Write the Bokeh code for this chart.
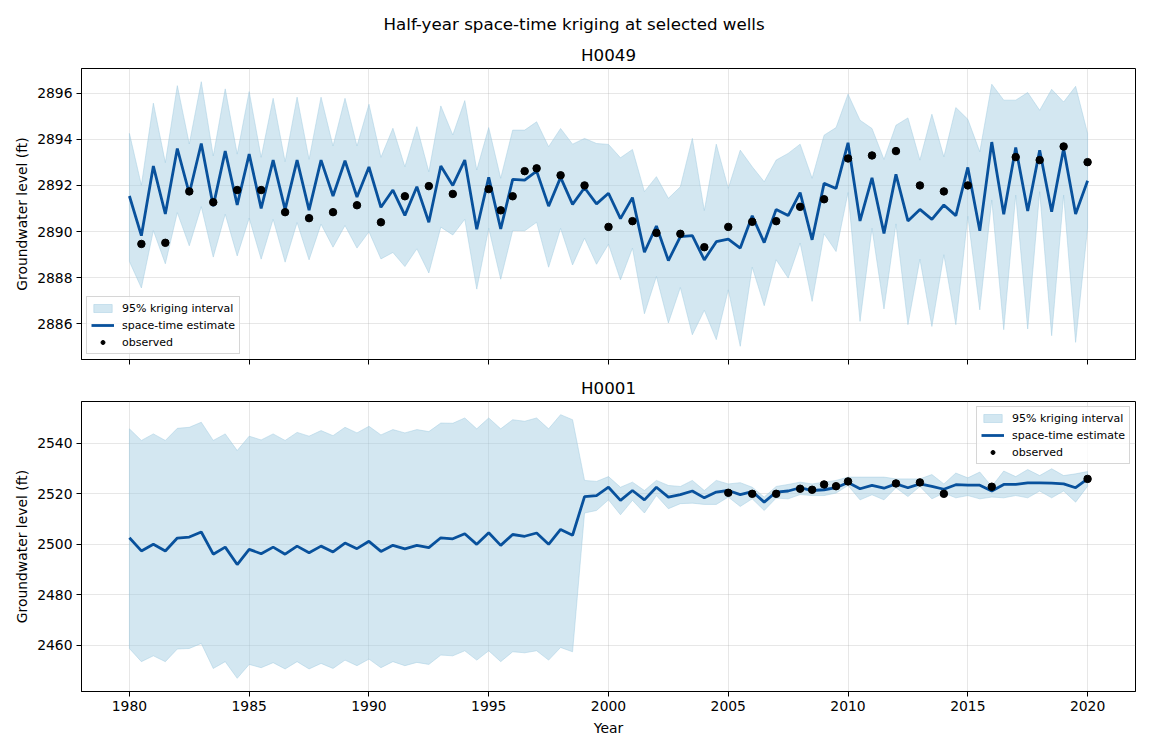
from bokeh.plotting import figure
from bokeh.layouts import column
from bokeh.models import Range1d, FixedTicker, Title
from bokeh.embed import file_html
from bokeh.resources import INLINE

FONT = "DejaVu Sans"

# Half-year time steps, 1980.0 ... 2020.0
years = [1980 + 0.5 * k for k in range(81)]

# ---- Well H0049 ----
h0049_est = [
    2891.54, 2889.82, 2892.84, 2890.76, 2893.60, 2891.65, 2893.82, 2891.10, 2893.49, 2891.15,
    2893.36, 2891.00, 2893.10, 2890.95, 2893.10, 2890.93, 2893.10, 2891.54, 2893.07, 2891.50,
    2892.80, 2891.05, 2891.80, 2890.70, 2891.94, 2890.40, 2892.84, 2892.00, 2893.10, 2890.10,
    2892.35, 2890.11, 2892.26, 2892.23, 2892.62, 2891.10, 2892.35, 2891.18, 2891.90, 2891.20,
    2891.66, 2890.56, 2891.47, 2889.10, 2890.24, 2888.74, 2889.78, 2889.82, 2888.77, 2889.56,
    2889.67, 2889.28, 2890.68, 2889.52, 2890.96, 2890.69, 2891.69, 2889.64, 2892.09, 2891.87,
    2893.85, 2890.46, 2892.33, 2889.92, 2892.48, 2890.46, 2890.96, 2890.53, 2891.15, 2890.69,
    2892.78, 2890.03, 2893.88, 2890.75, 2893.65, 2890.89, 2893.53, 2890.86, 2893.60, 2890.76,
    2892.20,
]
h0049_hi = [
    2894.26, 2892.01, 2895.57, 2892.99, 2896.33, 2893.80, 2896.50, 2893.28, 2896.19, 2893.36,
    2896.07, 2893.22, 2895.78, 2893.03, 2895.83, 2893.13, 2895.83, 2893.71, 2895.78, 2893.71,
    2895.52, 2893.22, 2894.48, 2892.81, 2894.55, 2892.59, 2895.45, 2894.19, 2895.68, 2892.67,
    2894.51, 2892.31, 2894.40, 2894.40, 2894.76, 2893.68, 2894.47, 2893.79, 2894.04, 2893.82,
    2893.78, 2893.20, 2893.56, 2891.73, 2892.38, 2891.44, 2891.94, 2894.04, 2890.91, 2893.79,
    2891.87, 2893.53, 2892.81, 2892.16, 2893.10, 2893.39, 2893.79, 2892.31, 2894.18, 2894.51,
    2895.96, 2894.83, 2894.47, 2893.13, 2894.61, 2894.93, 2893.10, 2895.09, 2893.24, 2895.38,
    2894.87, 2893.46, 2896.39, 2895.70, 2895.70, 2896.03, 2895.26, 2896.17, 2895.62, 2896.30,
    2894.26,
]
h0049_lo = [
    2888.70, 2887.55, 2890.04, 2888.60, 2890.82, 2889.38, 2891.08, 2888.89, 2890.75, 2888.94,
    2890.58, 2888.80, 2890.53, 2888.67, 2890.39, 2888.77, 2890.32, 2889.32, 2890.26, 2889.28,
    2889.99, 2888.81, 2889.09, 2888.48, 2889.25, 2888.20, 2890.19, 2889.85, 2890.53, 2887.50,
    2890.14, 2887.93, 2890.04, 2890.03, 2890.40, 2888.45, 2890.14, 2888.55, 2889.71, 2888.58,
    2889.45, 2887.90, 2889.28, 2886.43, 2888.05, 2886.03, 2887.57, 2885.52, 2886.58, 2885.31,
    2887.47, 2885.02, 2888.45, 2886.78, 2888.77, 2887.98, 2889.50, 2886.97, 2889.90, 2889.13,
    2891.69, 2886.10, 2890.14, 2886.64, 2890.33, 2885.96, 2888.80, 2885.88, 2888.99, 2885.96,
    2890.66, 2886.60, 2891.37, 2885.74, 2891.58, 2885.77, 2891.73, 2885.48, 2891.58, 2885.19,
    2890.15,
]
h0049_obs_year = [
    1980.5, 1981.5, 1982.5, 1983.5, 1984.5, 1985.5, 1986.5, 1987.5, 1988.5, 1989.5,
    1990.5, 1991.5, 1992.5, 1993.5, 1995.0, 1995.5, 1996.0, 1996.5, 1997.0, 1998.0,
    1999.0, 2000.0, 2001.0, 2002.0, 2003.0, 2004.0, 2005.0, 2006.0, 2007.0, 2008.0,
    2009.0, 2010.0, 2011.0, 2012.0, 2013.0, 2014.0, 2015.0, 2017.0, 2018.0, 2019.0,
    2020.0,
]
h0049_obs = [
    2889.46, 2889.51, 2891.74, 2891.27, 2891.80, 2891.80, 2890.84, 2890.58, 2890.84, 2891.14,
    2890.40, 2891.53, 2891.97, 2891.63, 2891.84, 2890.92, 2891.53, 2892.62, 2892.74, 2892.44,
    2892.00, 2890.20, 2890.45, 2889.94, 2889.90, 2889.32, 2890.20, 2890.42, 2890.45, 2891.07,
    2891.40, 2893.17, 2893.30, 2893.49, 2892.00, 2891.74, 2892.00, 2893.23, 2893.10, 2893.69,
    2893.01,
]

# ---- Well H0001 ----
h0001_est = [
    2502.6, 2497.4, 2500.0, 2497.4, 2502.5, 2502.9, 2504.9, 2496.1, 2498.9, 2492.0,
    2498.0, 2496.3, 2498.9, 2496.1, 2499.3, 2496.7, 2499.3, 2497.0, 2500.5, 2498.3,
    2501.2, 2497.2, 2499.6, 2498.2, 2499.6, 2498.7, 2502.6, 2502.2, 2504.2, 2500.0,
    2504.6, 2499.6, 2503.9, 2503.2, 2504.5, 2500.0, 2505.9, 2503.6, 2518.9, 2519.3,
    2522.6, 2517.4, 2521.3, 2517.6, 2522.6, 2518.7, 2519.7, 2521.1, 2518.4, 2520.7,
    2521.3, 2519.7, 2520.9, 2516.7, 2520.7, 2521.1, 2522.4, 2521.3, 2521.6, 2522.4,
    2524.5, 2522.0, 2523.3, 2522.2, 2523.9, 2522.4, 2523.9, 2522.9, 2521.8, 2523.6,
    2523.4, 2523.4, 2521.1, 2523.7, 2523.7, 2524.3, 2524.3, 2524.2, 2523.9, 2522.4,
    2525.9,
]
h0001_hi = [
    2545.7, 2541.1, 2543.7, 2541.1, 2545.9, 2546.3, 2548.3, 2541.1, 2543.7, 2537.1,
    2542.8, 2541.3, 2543.7, 2541.1, 2544.3, 2542.8, 2545.0, 2543.0, 2546.3, 2544.1,
    2546.7, 2543.3, 2545.4, 2544.1, 2545.4, 2544.6, 2548.0, 2547.9, 2550.0, 2545.7,
    2550.0, 2545.7, 2549.3, 2548.7, 2550.0, 2545.7, 2551.3, 2549.3, 2525.3, 2524.9,
    2526.8, 2522.6, 2524.6, 2521.3, 2525.3, 2523.3, 2522.9, 2525.3, 2521.3, 2525.3,
    2523.9, 2524.4, 2522.6, 2518.7, 2522.9, 2523.7, 2524.6, 2523.9, 2524.6, 2525.3,
    2526.6, 2526.6, 2526.6, 2526.6, 2525.9, 2525.9, 2525.9, 2527.6, 2523.9, 2528.2,
    2526.3, 2528.6, 2522.9, 2529.0, 2526.8, 2529.6, 2527.2, 2529.9, 2527.2, 2527.9,
    2528.8,
]
h0001_lo = [
    2458.8, 2453.6, 2455.9, 2453.6, 2458.6, 2458.8, 2460.8, 2450.9, 2453.6, 2447.0,
    2452.5, 2451.2, 2453.2, 2450.7, 2453.6, 2450.7, 2452.9, 2450.9, 2454.2, 2452.0,
    2454.6, 2451.2, 2453.6, 2452.0, 2453.3, 2452.5, 2456.2, 2455.9, 2457.9, 2454.2,
    2457.9, 2453.6, 2457.5, 2457.1, 2457.9, 2454.2, 2459.2, 2457.5, 2512.4, 2513.4,
    2517.6, 2511.7, 2517.4, 2512.4, 2519.3, 2514.1, 2516.1, 2516.3, 2515.8, 2515.8,
    2518.7, 2515.0, 2518.0, 2513.4, 2518.3, 2518.0, 2519.7, 2519.3, 2519.3, 2520.3,
    2523.3, 2517.6, 2519.6, 2517.6, 2522.4, 2518.9, 2522.9, 2518.0, 2520.3, 2518.4,
    2519.3, 2518.0, 2518.7, 2518.4, 2519.3, 2518.4, 2521.1, 2518.4, 2521.1, 2516.7,
    2523.0,
]
h0001_obs_year = [
    2005.0, 2006.0, 2007.0, 2008.0, 2008.5, 2009.0, 2009.5, 2010.0, 2012.0, 2013.0,
    2014.0, 2016.0, 2020.0,
]
h0001_obs = [
    2520.4, 2520.0, 2520.0, 2522.0, 2521.6, 2523.7, 2523.0, 2524.9, 2524.1, 2524.5,
    2520.0, 2522.8, 2525.9,
]

# Tick positions
year_ticks = [1980, 1985, 1990, 1995, 2000, 2005, 2010, 2015, 2020]
h0049_ticks = [2886, 2888, 2890, 2892, 2894, 2896]
h0001_ticks = [2460, 2480, 2500, 2520, 2540]

BAND = "#9ecae1"
LINE = "#08519c"


def padded(lo, hi, frac=0.05):
    span = hi - lo
    return Range1d(lo - frac * span, hi + frac * span)


x_range = padded(min(years), max(years))


def panel(name, est, hi, lo, obs_x, obs_y, yticks, height, border_top, border_bottom,
          legend_loc, show_xlabels):
    p = figure(width=1150, height=height, x_range=x_range,
               y_range=padded(min(lo), max(hi)),
               output_backend="svg", toolbar_location=None, title=None,
               min_border_left=81, min_border_right=15,
               min_border_top=border_top, min_border_bottom=border_bottom)
    p.add_layout(Title(text=name, align="center", text_font=FONT,
                       text_font_size="16.7px", text_font_style="normal",
                       text_color="black", standoff=7), "above")

    p.patch(years + years[::-1], hi + lo[::-1], fill_color=BAND, fill_alpha=0.45,
            line_color=BAND, line_alpha=0.45, line_width=1,
            legend_label="95% kriging interval")
    p.line(years, est, line_color=LINE, line_width=2.8, legend_label="space-time estimate")
    p.scatter(obs_x, obs_y, size=7.5, fill_color="black", line_color="black",
              legend_label="observed")

    p.xaxis.ticker = FixedTicker(ticks=year_ticks)
    p.yaxis.ticker = FixedTicker(ticks=yticks)
    for ax in (p.xaxis[0], p.yaxis[0]):
        ax.major_tick_out = 5
        ax.major_tick_in = 0
        ax.minor_tick_out = 0
        ax.minor_tick_in = 0
        ax.major_tick_line_color = "black"
        ax.axis_line_color = "black"
        ax.major_label_text_font = FONT
        ax.major_label_text_font_size = "13.9px"
        ax.major_label_text_color = "black"
        ax.major_label_standoff = 4
        ax.axis_label_text_font = FONT
        ax.axis_label_text_font_size = "13.9px"
        ax.axis_label_text_font_style = "normal"
        ax.axis_label_text_color = "black"
    p.yaxis.axis_label = "Groundwater level (ft)"
    p.yaxis.axis_label_standoff = 4
    if show_xlabels:
        p.xaxis.axis_label = "Year"
        p.xaxis.axis_label_standoff = 6
    else:
        # shared time axis: tick marks only, the labels sit under the lower panel
        p.xaxis.major_label_overrides = {t: "" for t in year_ticks}
        p.xaxis.major_label_standoff = 0

    p.grid.grid_line_color = "#b0b0b0"
    p.grid.grid_line_alpha = 0.3
    p.grid.grid_line_width = 1
    p.outline_line_color = "black"
    p.outline_line_alpha = 1
    p.outline_line_width = 1
    p.background_fill_color = "white"
    p.border_fill_color = "white"

    lg = p.legend[0]
    lg.location = legend_loc
    lg.margin = 5
    lg.padding = 4
    lg.spacing = 3
    lg.label_height = 14
    lg.glyph_height = 10
    lg.glyph_width = 23
    lg.label_standoff = 8
    lg.label_text_font = FONT
    lg.label_text_font_size = "11px"
    lg.label_text_color = "black"
    lg.border_line_color = "#cccccc"
    lg.border_line_alpha = 0.8
    lg.background_fill_alpha = 0.8
    return p


top = panel("H0049", h0049_est, h0049_hi, h0049_lo, h0049_obs_year, h0049_obs,
            h0049_ticks, 372, 68, 13, "bottom_left", False)
top.add_layout(Title(text="Half-year space-time kriging at selected wells", align="left",
                     text_font=FONT, text_font_size="16.7px", text_font_style="normal",
                     text_color="black", offset=302, standoff=12), "above")

bottom = panel("H0001", h0001_est, h0001_hi, h0001_lo, h0001_obs_year, h0001_obs,
               h0001_ticks, 378, 29, 59, "top_right", True)

layout = column(top, bottom, spacing=0)
open("out.html", "w").write(file_html(layout, INLINE))
